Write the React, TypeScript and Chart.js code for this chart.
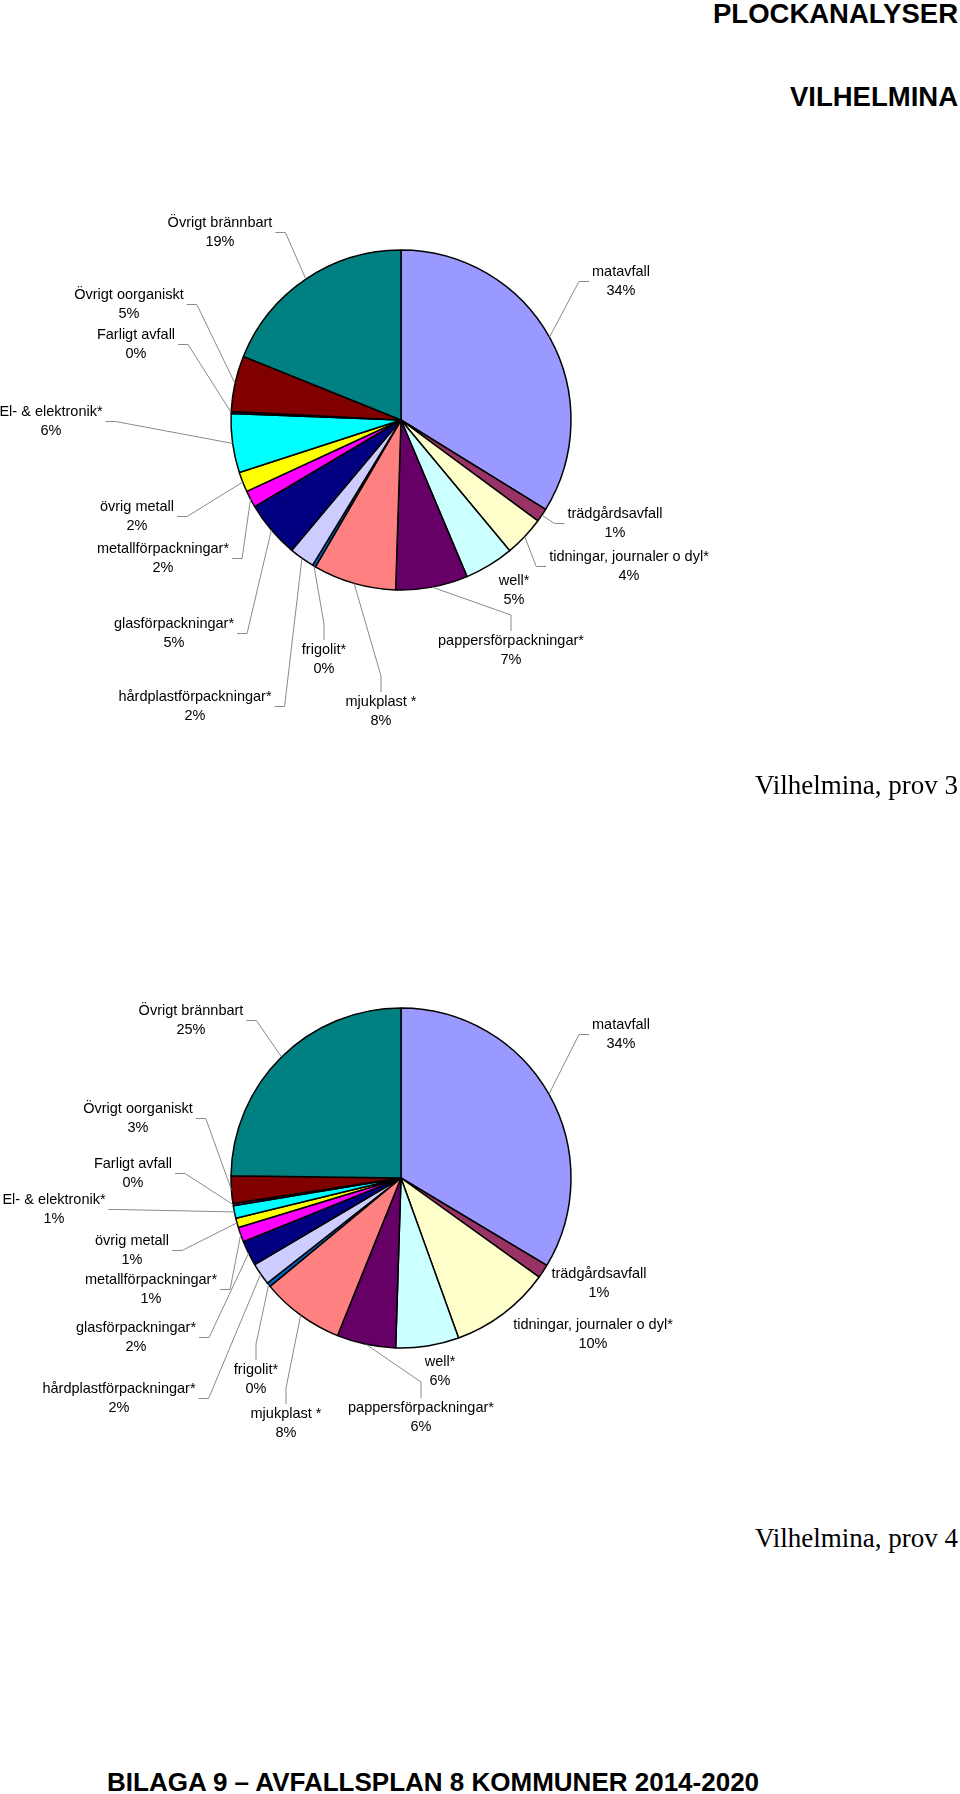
import React, { useEffect, useRef } from "react";
import { Chart, registerables } from "chart.js";

Chart.register(...registerables);

// ---------- DATA ----------
const categories = [
  "matavfall",
  "trädgårdsavfall",
  "tidningar, journaler o dyl*",
  "well*",
  "pappersförpackningar*",
  "mjukplast *",
  "frigolit*",
  "hårdplastförpackningar*",
  "glasförpackningar*",
  "metallförpackningar*",
  "övrig metall",
  "El- & elektronik*",
  "Farligt avfall",
  "Övrigt oorganiskt",
  "Övrigt brännbart",
];

// Vilhelmina, prov 3 (share of sample, %)
const prov3Values = [33.8, 1.3, 3.85, 4.7, 6.85, 7.9, 0.3, 2.4, 5.4, 1.6, 1.9, 5.6, 0.2, 5.3, 18.9];

// Vilhelmina, prov 4 (share of sample, %)
const prov4Values = [33.6, 1.3, 9.6, 6.0, 5.6, 7.9, 0.4, 2.1, 2.4, 1.4, 0.9, 1.2, 0.2, 2.6, 24.8];

const chartTitles = ["Vilhelmina, prov 3", "Vilhelmina, prov 4"];
const pageHeading = ["PLOCKANALYSER", "VILHELMINA"];
const footerText = "BILAGA 9 – AVFALLSPLAN 8 KOMMUNER 2014-2020";

// ---------- STYLE / LAYOUT ----------
const sliceColors = [
  "#9999FF", "#993366", "#FFFFCC", "#CCFFFF", "#660066",
  "#FF8080", "#0066CC", "#CCCCFF", "#000080", "#FF00FF",
  "#FFFF00", "#00FFFF", "#800080", "#800000", "#008080",
];

// label centre offsets (px) from pie centre, first text line
const prov3LabelOffsets: [number, number][] = [
  [220, -148], [214, 94], [228, 137], [113, 161], [110, 221],
  [-20, 282], [-77, 230], [-206, 277], [-227, 204], [-238, 129],
  [-264, 87], [-350, -8], [-265, -85], [-272, -125], [-181, -197],
];
const prov3Leaders = ["l", "l", "l", "", "t", "t", "t", "r", "r", "r", "r", "r", "r", "r", "r"];

const prov4LabelOffsets: [number, number][] = [
  [220, -153], [198, 96], [192, 147], [39, 184], [20, 230],
  [-115, 236], [-145, 192], [-282, 211], [-265, 150], [-250, 102],
  [-269, 63], [-347, 22], [-268, -14], [-263, -69], [-210, -167],
];
const prov4Leaders = ["l", "", "", "", "t", "t", "t", "r", "r", "r", "r", "r", "r", "r", "r"];

const PIE_RADIUS = 170;
const LINE_GAP = 19;
const LABEL_FONT = '14.5px "Liberation Sans", Arial, sans-serif';

function makeLabelPlugin(offsets: [number, number][], leaders: string[]) {
  return {
    id: "pieLabels",
    afterDatasetsDraw(chart: any) {
      const ctx: CanvasRenderingContext2D = chart.ctx;
      const meta = chart.getDatasetMeta(0);
      const values = chart.data.datasets[0].data as number[];
      const total = values.reduce((a, b) => a + b, 0);
      ctx.save();
      ctx.font = LABEL_FONT;
      ctx.textAlign = "center";
      ctx.textBaseline = "middle";
      meta.data.forEach((el: any, i: number) => {
        const p = el.getProps(["x", "y", "startAngle", "endAngle", "outerRadius"], true);
        const mid = (p.startAngle + p.endAngle) / 2;
        const ax = p.x + Math.cos(mid) * p.outerRadius;
        const ay = p.y + Math.sin(mid) * p.outerRadius;
        const [dx, dy] = offsets[i];
        const cx = p.x + dx;
        const cy = p.y + dy;
        const name = String(chart.data.labels[i]);
        const pct = Math.round((values[i] / total) * 100 + 1e-9) + "%";
        const w = Math.max(ctx.measureText(name).width, ctx.measureText(pct).width);
        const mode = leaders[i];
        if (mode) {
          ctx.strokeStyle = "#8a8a8a";
          ctx.lineWidth = 1;
          let sx: number, sy: number, ex: number, ey: number;
          const midY = cy + LINE_GAP / 2;
          if (mode === "r") {
            sx = cx + w / 2 + 3; sy = midY; ex = sx + 10; ey = sy;
          } else if (mode === "l") {
            sx = cx - w / 2 - 3; sy = midY; ex = sx - 10; ey = sy;
          } else {
            sx = cx; sy = cy - 10; ex = sx; ey = sy - 16;
          }
          ctx.beginPath();
          ctx.moveTo(sx, sy);
          ctx.lineTo(ex, ey);
          ctx.lineTo(ax, ay);
          ctx.stroke();
        }
        ctx.fillStyle = "#000";
        ctx.fillText(name, cx, cy);
        ctx.fillText(pct, cx, cy + LINE_GAP);
      });
      ctx.restore();
    },
  };
}

function PieChart(props: {
  values: number[];
  offsets: [number, number][];
  leaders: string[];
  top: number;
  height: number;
  centerY: number;
}) {
  const ref = useRef<HTMLCanvasElement>(null);
  useEffect(() => {
    if (!ref.current) return;
    const chart = new Chart(ref.current, {
      type: "pie",
      data: {
        labels: categories,
        datasets: [
          {
            data: props.values,
            backgroundColor: sliceColors,
            borderColor: "#000",
            borderWidth: 1.5,
          },
        ],
      },
      options: {
        responsive: false,
        animation: false,
        radius: PIE_RADIUS,
        events: [],
        layout: {
          padding: { left: 0, right: 960 - 802, top: 0, bottom: props.height - 2 * props.centerY },
        },
        plugins: {
          legend: { display: false },
          tooltip: { enabled: false },
        },
      } as any,
      plugins: [makeLabelPlugin(props.offsets, props.leaders)],
    });
    return () => chart.destroy();
  }, []);
  return (
    <canvas
      ref={ref}
      width={960}
      height={props.height}
      style={{ position: "absolute", left: 0, top: props.top, width: 960, height: props.height }}
    />
  );
}

export default function App() {
  const sans = '"Liberation Sans", Arial, sans-serif';
  const serif = '"Liberation Serif", "Times New Roman", serif';
  return (
    <div
      style={{
        position: "absolute",
        left: 0,
        top: 0,
        width: 960,
        height: 1794,
        background: "#fff",
        overflow: "hidden",
      }}
    >
      <div style={{ position: "absolute", right: 2, top: 0, font: `bold 27.5px ${sans}`, lineHeight: "27.5px", whiteSpace: "nowrap" }}>
        {pageHeading[0]}
      </div>
      <div style={{ position: "absolute", right: 2, top: 83, font: `bold 27.5px ${sans}`, lineHeight: "27.5px", whiteSpace: "nowrap" }}>
        {pageHeading[1]}
      </div>

      <PieChart values={prov3Values} offsets={prov3LabelOffsets} leaders={prov3Leaders} top={180} height={600} centerY={240} />
      <div style={{ position: "absolute", right: 2, top: 772, font: `27px ${serif}`, lineHeight: "27px", whiteSpace: "nowrap" }}>
        {chartTitles[0]}
      </div>

      <PieChart values={prov4Values} offsets={prov4LabelOffsets} leaders={prov4Leaders} top={940} height={540} centerY={238} />
      <div style={{ position: "absolute", right: 2, top: 1525, font: `27px ${serif}`, lineHeight: "27px", whiteSpace: "nowrap" }}>
        {chartTitles[1]}
      </div>

      <div style={{ position: "absolute", left: 107, top: 1769, font: `bold 26px ${sans}`, lineHeight: "26px", whiteSpace: "nowrap" }}>
        {footerText}
      </div>
    </div>
  );
}
